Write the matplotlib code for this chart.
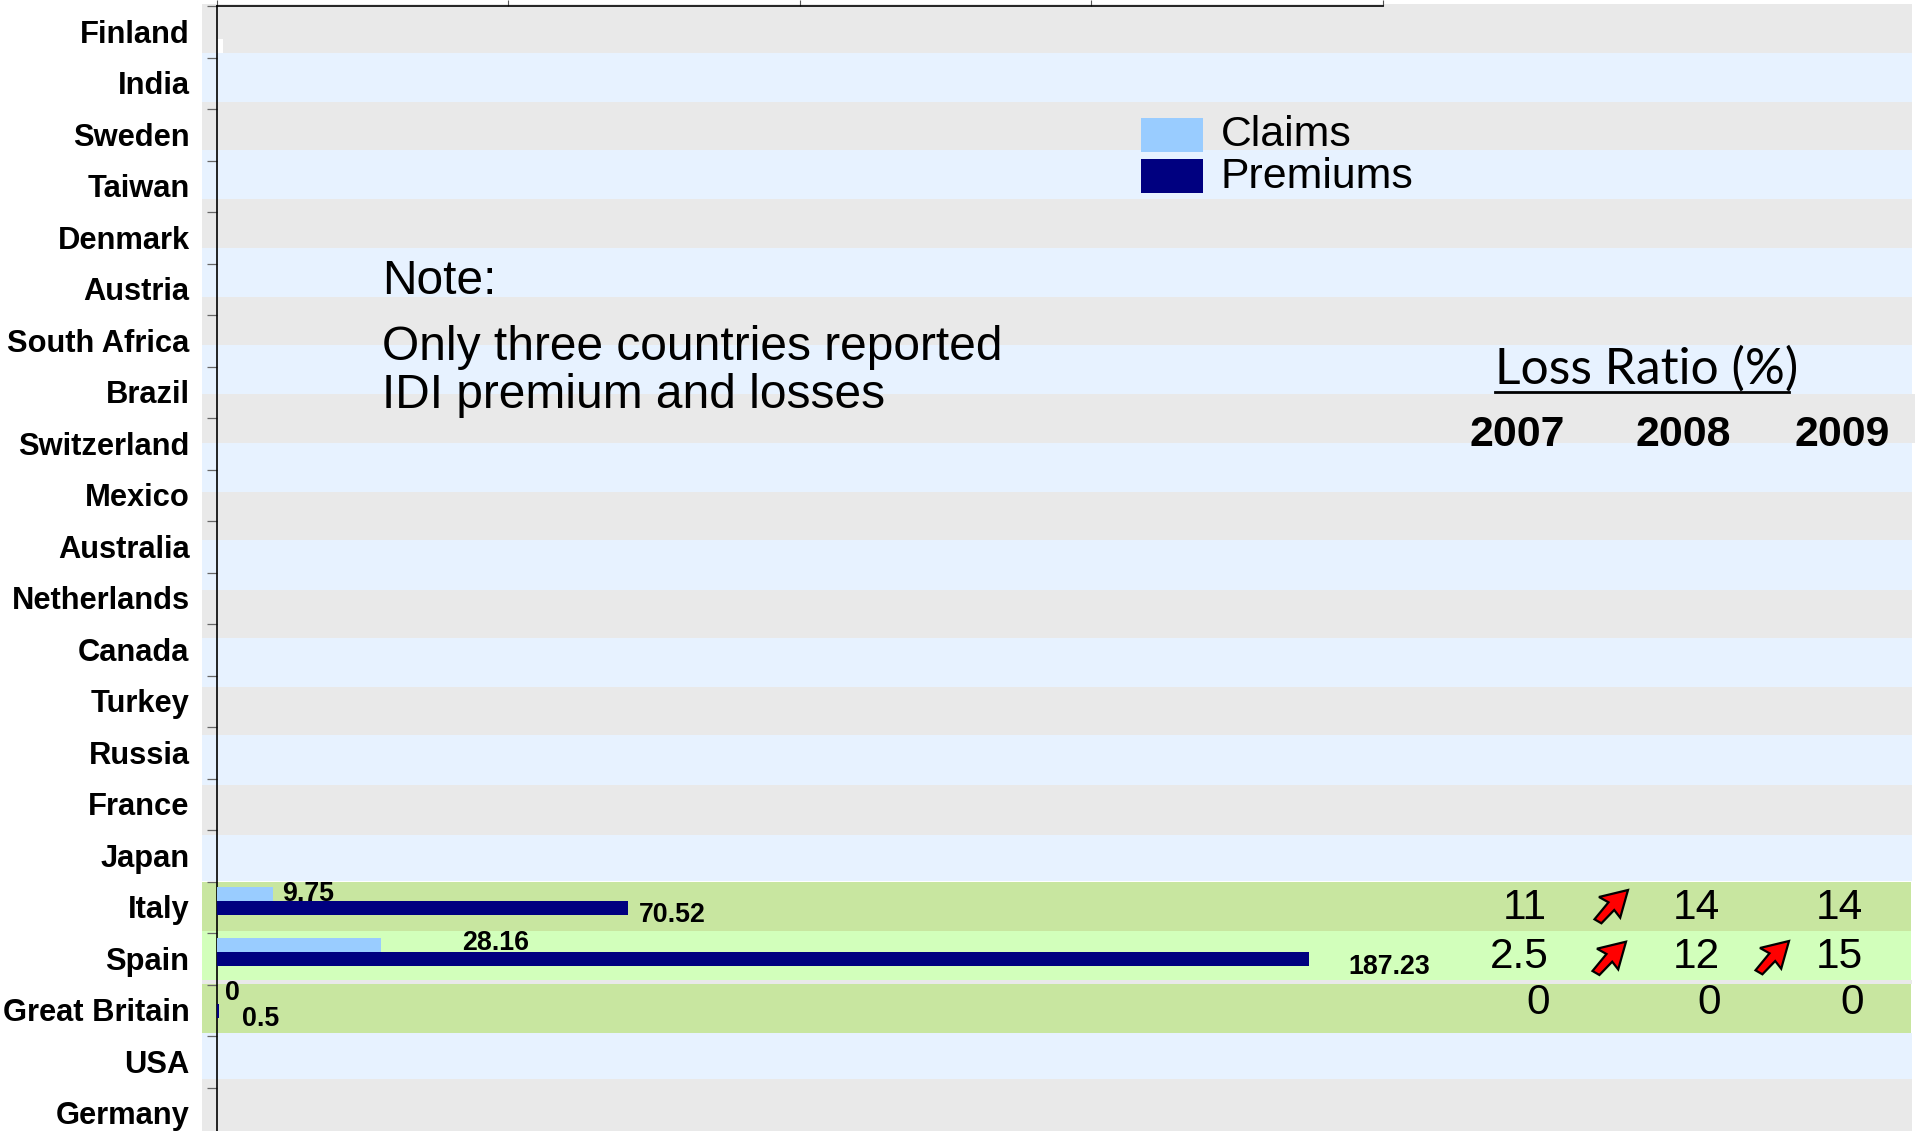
import matplotlib
matplotlib.use("Agg")
import matplotlib.pyplot as plt
from matplotlib.patches import Polygon, Rectangle

W, H = 1918, 1131
plt.rcParams['font.family'] = ['Liberation Sans', 'DejaVu Sans']

countries = ["Finland", "India", "Sweden", "Taiwan", "Denmark", "Austria", "South Africa",
             "Brazil", "Switzerland", "Mexico", "Australia", "Netherlands", "Canada", "Turkey",
             "Russia", "France", "Japan", "Italy", "Spain", "Great Britain", "USA", "Germany"]
bar_countries = ["Italy", "Spain", "Great Britain"]
claims = [9.75, 28.16, 0]
premiums = [70.52, 187.23, 0.5]
loss_years = ["2007", "2008", "2009"]
loss_italy = ["11", "14", "14"]
loss_spain = ["2.5", "12", "15"]
loss_gb = ["0", "0", "0"]

GRAY, BLUE, GREEN, LIME = '#E9E9E9', '#E7F2FF', '#C8E6A0', '#D2FFBB'
band_edges = [4, 53, 102, 150, 199, 248, 297, 345, 394, 443, 492, 540, 590, 638, 687, 735, 785, 835, 881]
fig = plt.figure(figsize=(W / 100, H / 100), dpi=100, facecolor='white')

# overlay in pixel coordinates for the backdrop
bg = fig.add_axes([0, 0, 1, 1], zorder=0)
bg.set_xlim(0, W); bg.set_ylim(H, 0); bg.axis('off')
for i in range(len(band_edges) - 1):
    bg.add_patch(Rectangle((202, band_edges[i]), 1710, band_edges[i + 1] - band_edges[i],
                           fc=GRAY if i % 2 == 0 else BLUE, ec='none'))
bg.add_patch(Rectangle((202, 394), 1713, 49, fc=GRAY, ec='none'))
bg.add_patch(Rectangle((217, 39), 6, 14, fc='white', ec='none'))
bg.add_patch(Rectangle((202, 881.5), 1709, 49.5, fc=GREEN, ec='none'))
bg.add_patch(Rectangle((202, 931), 1709, 49, fc=LIME, ec='none'))
bg.add_patch(Rectangle((202, 980), 1710, 4, fc=GRAY, ec='none'))
bg.add_patch(Rectangle((202, 984), 1709, 49, fc=GREEN, ec='none'))
bg.add_patch(Rectangle((202, 1033), 1710, 46, fc=BLUE, ec='none'))
bg.add_patch(Rectangle((202, 1079), 1710, 52, fc=GRAY, ec='none'))

# chart axes: the bottom row runs past the canvas edge
x0, x1, y_top, row = 216.5, 1383, 6.3, 51.5
y_bot = y_top + row * len(countries)
ax = fig.add_axes([x0 / W, 1 - y_bot / H, (x1 - x0) / W, (y_bot - y_top) / H], zorder=1)
ax.patch.set_alpha(0)
ax.set_xlim(0, 200)
ax.set_ylim(len(countries) - 0.5, -0.5)
ax.spines['bottom'].set_visible(False)
ax.spines['right'].set_bounds(-0.5, -0.5)
ax.spines['top'].set_linewidth(1.2)
ax.spines['left'].set_linewidth(1.2)
ax.xaxis.tick_top()
ax.set_xticks([0, 50, 100, 150, 200])
ax.set_xticklabels([])
ax.tick_params(axis='x', length=4.5, width=0.8, color='#555555')
ax.set_yticks([i - 0.5 for i in range(len(countries))])
ax.set_yticklabels([])
ax.tick_params(axis='y', length=7, width=0.9, color='#666666')

bar_h = 14 / row
pos = [countries.index(c) for c in bar_countries]
ax.barh([p - bar_h for p in pos], claims, height=bar_h, color='#99CCFF', zorder=3)
ax.barh(pos, premiums, height=bar_h, color='#000080', zorder=3)

label_kw = dict(textcoords='offset pixels', ha='center', va='center', fontsize=19.3,
                fontweight='bold', color='black', zorder=4)
claim_off = [(35, 0), (115, 2.5), (16, 4)]
prem_off = [(45, -7), (81, -7.5), (41, -8)]
for p, c, o in zip(pos, claims, claim_off):
    ax.annotate(f"{c:g}", xy=(c, p - bar_h), xytext=o, **label_kw)
for p, v, o in zip(pos, premiums, prem_off):
    ax.annotate(f"{v:g}", xy=(v, p), xytext=o, **label_kw)

# overlay text in pixel coordinates
fg = fig.add_axes([0, 0, 1, 1], zorder=2)
fg.set_xlim(0, W); fg.set_ylim(H, 0); fg.axis('off')

for i, c in enumerate(countries):
    fg.text(189.5, y_top + row * (i + 0.5) + 2.5, c, ha='right', va='center', fontsize=22.2, fontweight='bold')

fg.add_patch(Rectangle((1141, 118), 62, 34, fc='#99CCFF', ec='none'))
fg.add_patch(Rectangle((1141, 159), 62, 34, fc='#000080', ec='none'))
fg.text(1221, 135, "Claims", va='center', fontsize=30.8)
fg.text(1221, 177.5, "Premiums", va='center', fontsize=30.8)

fg.text(382.5, 281, "Note:", va='center', fontsize=34.5)
fg.text(382.5, 347, "Only three countries reported", va='center', fontsize=34.5)
fg.text(382.5, 396, "IDI premium and losses", va='center', fontsize=34.5)

fg.text(1495, 369, "Loss Ratio (%)", va='center', ha='left', fontsize=35.8, family='Lato')
fg.plot([1495, 1789], [392, 392], color='black', lw=2)

for x, y in zip([1517, 1683, 1842], loss_years):
    fg.text(x, 435, y, ha='center', va='center', fontsize=30.8, fontweight='bold')

for vals, y, xs in [(loss_italy, 908, [1547, 1720, 1863]),
                    (loss_spain, 957, [1549, 1720, 1863]),
                    (loss_gb, 1003, [1550, 1721, 1864])]:
    for x, v in zip(xs, vals):
        fg.text(x, y, v, ha='right', va='center', fontsize=30.5)

shape = [(0, 0), (-29, 7), (-19.5, 12.3), (-33.5, 29.3), (-26.6, 33.3), (-13.8, 20), (-7.8, 27.7)]
for tx, ty in [(1628, 890), (1626, 941.7), (1789, 941)]:
    fg.add_patch(Polygon([(tx + a, ty + b) for a, b in shape], closed=True, fc='#FF0000', ec='black', lw=1.6, joinstyle='miter'))

fig.savefig('out.png', dpi=100)
